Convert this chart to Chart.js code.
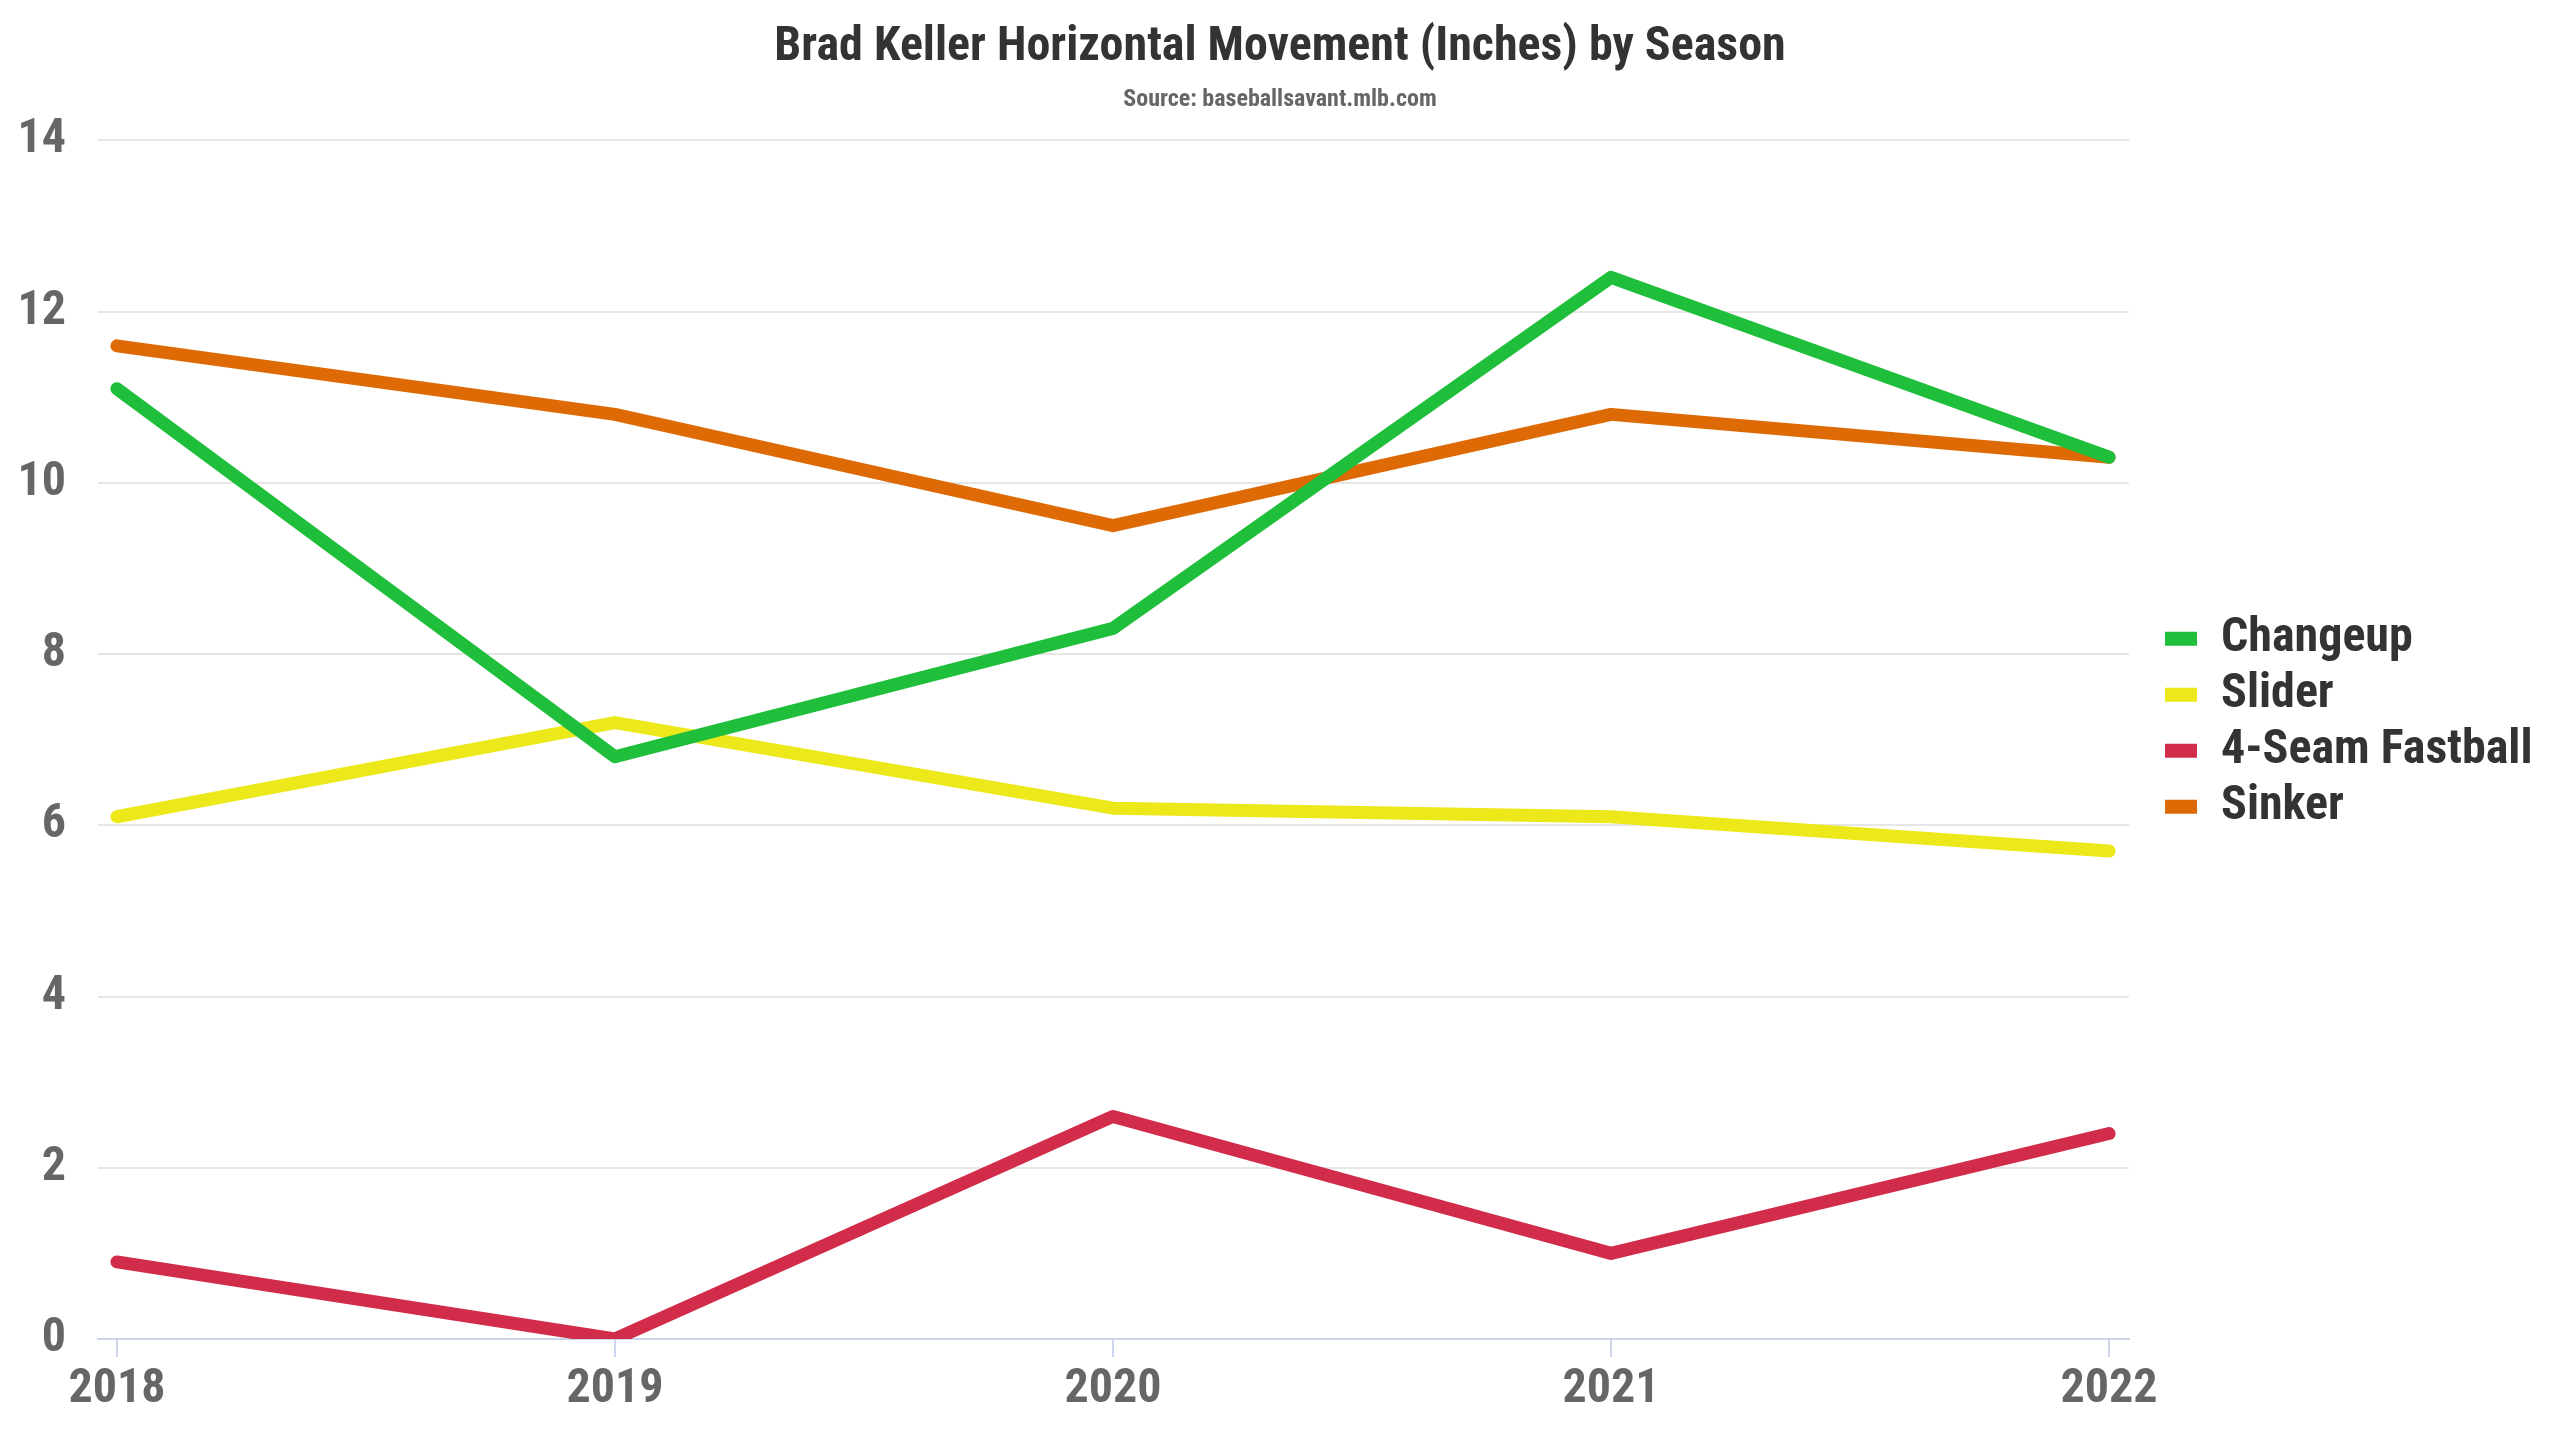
<!DOCTYPE html>
<html>
<head>
<meta charset="utf-8">
<script src="https://cdn.jsdelivr.net/npm/chart.js@4.4.1/dist/chart.umd.min.js"></script>
<style>
  html, body { margin: 0; padding: 0; background: #fff; }
  #wrap { width: 2560px; height: 1440px; }
</style>
</head>
<body>
<div id="wrap"><canvas id="lineGraph"></canvas></div>
<script>
const seasons = [2018, 2019, 2020, 2021, 2022];
const changeup = [11.1, 6.8, 8.3, 12.4, 10.3];
const slider = [6.1, 7.2, 6.2, 6.1, 5.7];
const fourSeam = [0.9, 0.0, 2.6, 1.0, 2.4];
const sinker = [11.6, 10.8, 9.5, 10.8, 10.3];
const yTicks = [0, 2, 4, 6, 8, 10, 12, 14];

const FONT = "'Roboto Condensed', 'Liberation Sans Narrow', Roboto, sans-serif";

// legend block: fixed width, nudged right/up to sit like the original
const LEGEND_WIDTH = 431;
const LEGEND_SHIFT_X = 28;
const LEGEND_SHIFT_Y = -17;

function pts(vals) {
    return seasons.map((yr, i) => ({ x: yr, y: vals[i] }));
}

function series(label, vals, color) {
    return {
        label: label,
        data: pts(vals),
        borderColor: color,
        backgroundColor: color,
        borderWidth: 13,
        borderCapStyle: 'round',
        borderJoinStyle: 'round',
        pointRadius: 0,
        pointHoverRadius: 0,
        tension: 0,
        clip: { left: 30, right: 30, top: 30, bottom: 0 }
    };
}

const legendLayout = {
    id: 'legendLayout',
    beforeLayout: function(chart) {
        const lg = chart.legend;
        if (lg && !lg._fixed) {
            const origFit = lg.fit;
            lg.fit = function() {
                origFit.call(this);
                this.width = LEGEND_WIDTH;
            };
            lg._fixed = true;
        }
    },
    afterLayout: function(chart) {
        const lg = chart.legend;
        if (!lg) return;
        lg.left += LEGEND_SHIFT_X;
        lg.right += LEGEND_SHIFT_X;
        lg.top += LEGEND_SHIFT_Y;
        lg.bottom += LEGEND_SHIFT_Y;
    }
};

document.addEventListener('DOMContentLoaded', function() {
    const ctx = document.getElementById('lineGraph').getContext('2d');

    new Chart(ctx, {
        type: 'line',
        data: {
            datasets: [
                series('Changeup', changeup, '#20bf3b'),
                series('Slider', slider, '#ece81a'),
                series('4-Seam Fastball', fourSeam, '#d22c4b'),
                series('Sinker', sinker, '#dd6a05')
            ]
        },
        plugins: [legendLayout],
        options: {
            responsive: true,
            maintainAspectRatio: false,
            animation: false,
            layout: {
                padding: { left: 0, right: 0, top: 0, bottom: 0 }
            },
            scales: {
                x: {
                    type: 'linear',
                    min: 2017.962,
                    max: 2022.04,
                    afterFit: function(scale) { scale.height = 101; },
                    border: { display: true, color: '#ccd6eb', width: 2 },
                    grid: {
                        drawOnChartArea: false,
                        drawTicks: true,
                        tickLength: 18,
                        color: '#ccd6eb',
                        lineWidth: 2
                    },
                    ticks: {
                        stepSize: 1,
                        includeBounds: false,
                        padding: 4,
                        color: '#666666',
                        font: { family: FONT, size: 48, weight: 'bold' },
                        callback: function(v) { return String(v); }
                    }
                },
                y: {
                    min: yTicks[0],
                    max: yTicks[yTicks.length - 1],
                    afterFit: function(scale) { scale.width = 98; },
                    border: { display: false },
                    grid: {
                        color: '#e6e6e6',
                        lineWidth: 2,
                        drawTicks: false
                    },
                    ticks: {
                        stepSize: 2,
                        padding: 32,
                        color: '#666666',
                        font: { family: FONT, size: 48, weight: 'bold', lineHeight: 1 }
                    }
                }
            },
            plugins: {
                title: {
                    display: true,
                    text: 'Brad Keller Horizontal Movement (Inches) by Season',
                    color: '#333333',
                    font: { family: FONT, size: 48, weight: 'bold' },
                    padding: { top: 19, bottom: 6 }
                },
                subtitle: {
                    display: true,
                    text: 'Source: baseballsavant.mlb.com',
                    color: '#666666',
                    font: { family: FONT, size: 24, weight: 'bold' },
                    padding: { top: 3, bottom: 26 }
                },
                legend: {
                    position: 'right',
                    align: 'center',
                    fullSize: false,
                    labels: {
                        boxWidth: 32,
                        boxHeight: 14,
                        padding: 8,
                        color: '#333333',
                        font: { family: FONT, size: 48, weight: 'bold' },
                        generateLabels: function(chart) {
                            return Chart.defaults.plugins.legend.labels.generateLabels(chart)
                                .map(function(item) { item.lineWidth = 0; return item; });
                        }
                    }
                },
                tooltip: { enabled: false }
            }
        }
    });
});
</script>
</body>
</html>
